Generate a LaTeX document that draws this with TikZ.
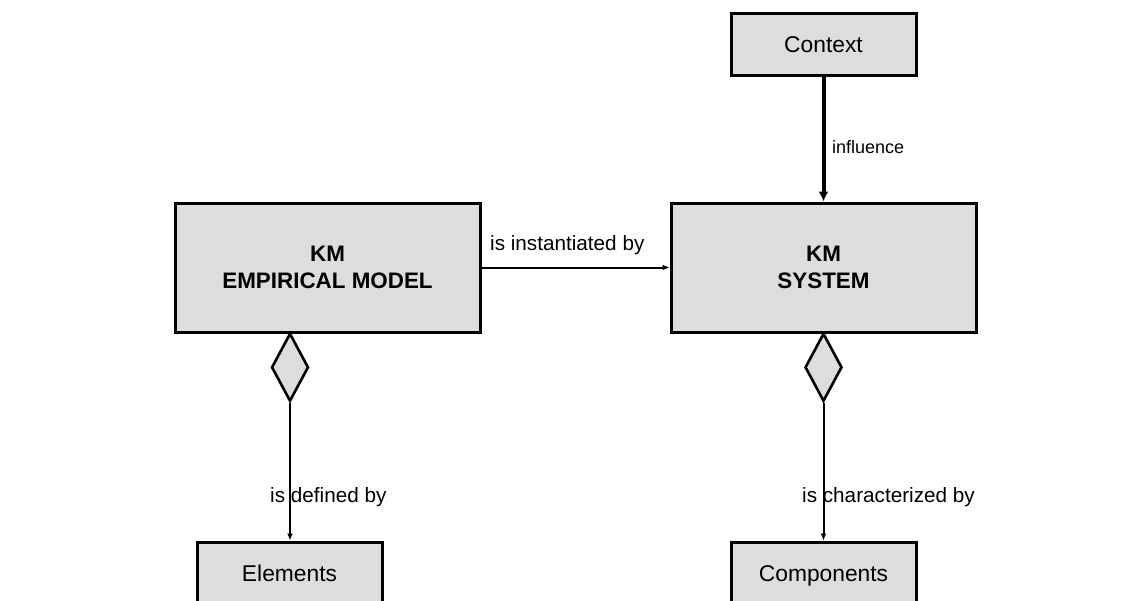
\documentclass[tikz,border=0pt]{standalone}
\usepackage{fontspec}
\setmainfont{Liberation Sans}
\usetikzlibrary{shapes.geometric,arrows.meta}
\definecolor{boxgray}{HTML}{DDDDDD}
\tikzset{
  entity/.style={draw=black, line width=3pt, fill=boxgray, inner sep=0pt,
    align=center, font=\fontsize{22.8}{27}\selectfont},
  bigentity/.style={entity, minimum width=305pt, minimum height=129pt,
    font=\fontsize{22.4}{27}\bfseries\selectfont},
  smallentity/.style={entity, minimum width=185pt, minimum height=62pt,
    text height=16.5pt, text depth=0pt},
  aggr/.style={diamond, draw=black, line width=2.6pt, fill=boxgray,
    minimum width=37pt, minimum height=68pt, inner sep=0pt},
  link/.style={line width=2pt, -{Latex[length=7pt,width=6pt]}},
  boldlink/.style={line width=4pt, -{Latex[length=10pt,width=10pt]}},
  lbl/.style={inner sep=0pt, font=\fontsize{20.7}{24}\selectfont},
}
\begin{document}
\begin{tikzpicture}[x=1pt, y=-1pt]
  \path[use as bounding box, fill=white] (0,0) rectangle (1143,600);

  % main entities
  \node[bigentity] (em)  at (327.5,267.5) {KM\\EMPIRICAL MODEL};
  \node[bigentity] (sys) at (823.5,267.5) {KM\\SYSTEM};

  % surrounding entities
  \node[smallentity] (ctx)  at (823.5,44)  {Context};
  \node[smallentity] (el)   at (289.5,573) {Elements};
  \node[smallentity] (comp) at (823.5,573) {Components};

  % aggregation diamonds
  \node[aggr, anchor=north] (dem)  at (290,332)   {};
  \node[aggr, anchor=north] (dsys) at (823.5,332) {};

  % relations
  \draw[link] (em.east) -- (sys.west);
  \draw[boldlink] (ctx.south) -- (sys.north);
  \draw[link] (dem.south) -- (el.north -| dem.south);
  \draw[link] (dsys.south) -- (comp.north);

  % relation labels
  \node[lbl, anchor=west] (linst) at (490,245) {is instantiated by};
  \node[lbl, anchor=west, font=\fontsize{18}{22}\selectfont] (linf) at (832,147) {influence};
  \node[lbl, anchor=west] (ldef) at (270,497) {is defined by};
  \node[lbl, anchor=west] (lchar) at (802,497) {is characterized by};
\end{tikzpicture}
\end{document}
